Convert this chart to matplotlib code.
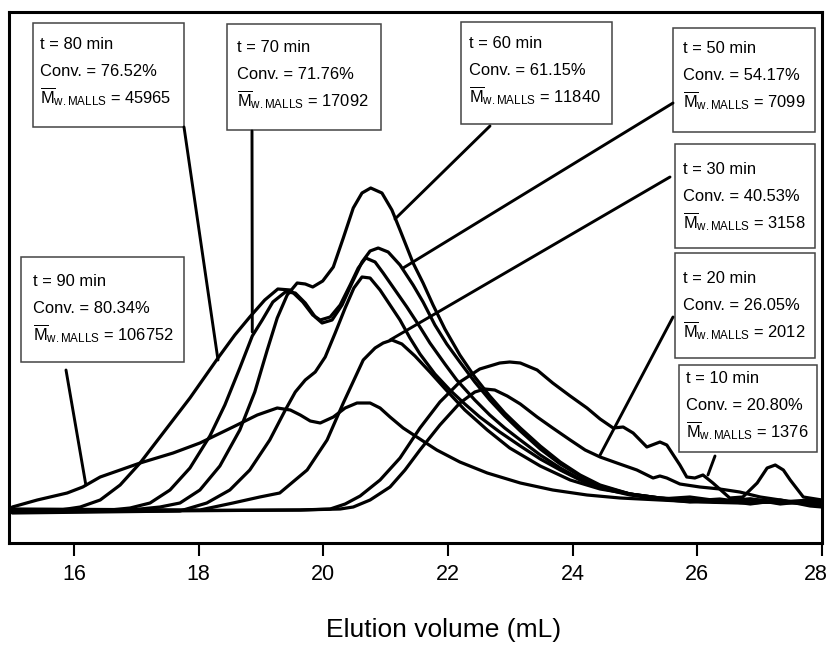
import matplotlib
matplotlib.use("Agg")
import matplotlib.pyplot as plt
import matplotlib.transforms as mtransforms
from matplotlib.patches import Rectangle

plt.rcParams['font.family'] = ['Liberation Sans', 'DejaVu Sans']
plt.rcParams['mathtext.fontset'] = 'custom'
plt.rcParams['mathtext.rm'] = 'Liberation Sans'
plt.rcParams['mathtext.it'] = 'Liberation Sans:italic'
plt.rcParams['mathtext.bf'] = 'Liberation Sans:bold'

# elution volume (mL) / detector response (arb. units)
x_t90 = [15.01, 15.41, 15.89, 16.14, 16.42, 16.74, 17.06, 17.59, 18.02, 18.55, 18.94, 19.26, 19.47, 19.63,
         19.79, 19.95, 20.16, 20.35, 20.54, 20.75, 20.91, 21.07, 21.28, 21.50, 21.82, 22.19, 22.63, 23.16,
         23.68, 24.23, 24.76, 25.40, 26.04, 26.68, 27.33, 28.00]
y_t90 = [3, 10, 17, 23, 33, 40, 47, 57, 67, 83, 95, 102, 100, 95, 89, 87, 93, 102, 107, 107, 102, 93, 82,
         73, 60, 48, 37, 27, 20, 15, 12, 10, 8, 7, 8, 5]

x_t80 = [15.01, 15.78, 16.10, 16.42, 16.74, 17.06, 17.38, 17.86, 18.31, 18.58, 18.82, 19.06, 19.27, 19.47,
         19.67, 19.83, 19.95, 20.11, 20.27, 20.43, 20.56, 20.68, 20.83, 20.96, 21.15, 21.34, 21.55, 21.71,
         21.95, 22.14, 22.43, 22.67, 22.91, 23.16, 23.48, 23.80, 24.12, 24.44, 24.92, 25.40, 25.88, 26.36,
         26.85, 27.33, 27.81, 28.00]
y_t80 = [-1, 0, 3, 10, 25, 47, 73, 112, 152, 175, 193, 210, 221, 220, 208, 195, 190, 193, 205, 225, 242, 252,
         248, 237, 220, 203, 183, 167, 146, 130, 110, 95, 82, 70, 55, 42, 31, 23, 16, 11, 8, 10, 6, 10, 4, 3]

x_t70 = [15.01, 16.42, 16.90, 17.22, 17.54, 17.86, 18.18, 18.42, 18.66, 18.86, 19.02, 19.19, 19.39, 19.55,
         19.71, 19.87, 19.98, 20.14, 20.30, 20.46, 20.62, 20.75, 20.88, 21.04, 21.23, 21.44, 21.60, 21.79,
         21.98, 22.19, 22.43, 22.67, 22.91, 23.16, 23.48, 23.80, 24.12, 24.44, 24.92, 25.40, 25.88, 26.36,
         26.85, 27.33, 27.81, 28.00]
y_t70 = [-2, -1, 2, 7, 20, 42, 74, 105, 142, 174, 190, 208, 218, 217, 207, 193, 187, 190, 205, 227, 248, 259,
         262, 258, 245, 225, 208, 185, 166, 148, 128, 110, 94, 79, 61, 46, 34, 24, 16, 12, 10, 8, 10, 7, 8, 6]

x_t60 = [15.01, 16.90, 17.38, 17.70, 18.02, 18.34, 18.66, 18.90, 19.10, 19.26, 19.42, 19.58, 19.71, 19.83,
         19.99, 20.16, 20.32, 20.48, 20.62, 20.76, 20.94, 21.10, 21.23, 21.44, 21.60, 21.76, 21.95, 22.19,
         22.43, 22.67, 22.91, 23.16, 23.48, 23.80, 24.12, 24.44, 24.92, 25.40, 25.88, 26.36, 26.85, 27.33,
         27.81, 28.00]
y_t60 = [0, 0, 3, 7, 20, 44, 80, 118, 160, 192, 215, 227, 226, 223, 229, 243, 272, 302, 317, 322, 317, 300,
         280, 247, 227, 205, 181, 155, 133, 114, 97, 82, 64, 48, 35, 25, 16, 12, 9, 11, 7, 9, 6, 4]

x_t50 = [15.01, 17.70, 18.13, 18.50, 18.82, 19.14, 19.39, 19.55, 19.71, 19.87, 20.03, 20.19, 20.35, 20.49,
         20.62, 20.75, 20.91, 21.07, 21.23, 21.39, 21.55, 21.79, 22.03, 22.27, 22.51, 22.83, 23.16, 23.48,
         23.80, 24.12, 24.44, 24.92, 25.40, 25.88, 26.36, 26.85, 27.33, 27.81, 28.00]
y_t50 = [-3, -1, 7, 20, 40, 70, 100, 118, 130, 138, 153, 177, 202, 222, 233, 232, 220, 205, 190, 172, 156,
         136, 120, 106, 93, 78, 64, 51, 40, 30, 22, 15, 11, 13, 9, 11, 6, 9, 7]

x_t30 = [15.01, 18.02, 18.55, 18.98, 19.30, 19.74, 20.06, 20.32, 20.64, 20.83, 20.96, 21.10, 21.26, 21.47,
         21.71, 21.97, 22.27, 22.63, 22.99, 23.48, 23.96, 24.44, 24.92, 25.40, 25.88, 26.36, 26.85, 27.33,
         27.81, 28.00]
y_t30 = [1, 0, 7, 13, 17, 40, 70, 107, 150, 162, 167, 170, 166, 154, 138, 120, 100, 80, 62, 44, 30, 21, 16,
         12, 10, 8, 11, 8, 10, 8]

x_t20 = [15.01, 19.63, 20.27, 20.48, 20.75, 21.07, 21.31, 21.55, 21.87, 22.19, 22.43, 22.59, 22.75, 22.95,
         23.16, 23.43, 23.68, 23.96, 24.20, 24.44, 24.71, 25.03, 25.29, 25.40, 25.51, 25.72, 26.04, 26.36,
         26.68, 27.01, 27.33, 27.65, 28.00]
y_t20 = [-1, 0, 1, 3, 10, 23, 40, 60, 85, 107, 118, 121, 120, 114, 106, 93, 82, 70, 60, 53, 47, 40, 32, 34,
         32, 26, 23, 21, 18, 13, 10, 7, 5]

x_t10 = [15.01, 19.63, 20.11, 20.35, 20.59, 20.91, 21.23, 21.55, 21.87, 22.19, 22.51, 22.83, 22.99, 23.16,
         23.43, 23.68, 23.96, 24.23, 24.44, 24.65, 24.81, 24.97, 25.19, 25.40, 25.51, 25.72, 25.83, 25.96,
         26.09, 26.25, 26.52, 26.73, 26.96, 27.12, 27.25, 27.38, 27.49, 27.70, 28.00]
y_t10 = [-2, 0, 1, 6, 14, 30, 52, 82, 108, 128, 141, 147, 148, 147, 140, 127, 114, 102, 91, 82, 83, 77, 63,
         68, 65, 45, 33, 32, 35, 27, 12, 13, 27, 42, 45, 40, 30, 13, 10]

# box labels
times = [80, 70, 60, 50, 30, 20, 10, 90]
convs = ['76.52', '71.76', '61.15', '54.17', '40.53', '26.05', '20.80', '80.34']
mws = [45965, 17092, 11840, 7099, 3158, 2012, 1376, 106752]
# where each leader line touches its trace (mL, response)
leader_x = [18.31, 18.86, 21.15, 21.28, 21.07, 24.44, 26.17, 16.19]
leader_y = [150, 178, 291, 242, 170, 55, 35, 25]

W, H = 830, 645
fig = plt.figure(figsize=(W / 100, H / 100), dpi=100)
ax = fig.add_axes([9 / W, 1 - 543 / H, 813 / W, 531 / H])


def frac(px, py):
    # pixel position in the picture -> axes fraction
    return (px - 9) / 813, (543 - py) / 531


lw = 2.3
for xs, ys in [(x_t90, y_t90), (x_t80, y_t80), (x_t70, y_t70), (x_t60, y_t60),
               (x_t50, y_t50), (x_t30, y_t30), (x_t20, y_t20), (x_t10, y_t10)]:
    ax.plot(xs, ys, color='black', lw=lw, solid_joinstyle='round', solid_capstyle='round')

# box layout in pixels: left, top, right, bottom, text left, first line centre
boxes = [(33, 23, 184, 127, 40, 43), (227, 24, 381, 130, 237, 46), (461, 22, 612, 124, 469, 42),
         (673, 28, 815, 132, 683, 47), (675, 144, 815, 248, 683, 168), (675, 253, 815, 358, 683, 277),
         (679, 365, 817, 452, 686, 377), (21, 257, 184, 362, 33, 280)]
starts = [(184, 127), (252, 131), (490, 126), (673, 103), (670, 177), (673, 317), (715, 456), (66, 370)]

for i, (l, t, r, b, tx, ty) in enumerate(boxes):
    x0, y0 = frac(l, b)
    x1, y1 = frac(r, t)
    ax.add_patch(Rectangle((x0, y0), x1 - x0, y1 - y0, transform=ax.transAxes,
                           facecolor='white', edgecolor='#444444', lw=1.1, zorder=3))
    lines = ['t = %d min' % times[i], 'Conv. = %s%%' % convs[i],
             r'$\overline{\mathrm{M}}_{\mathrm{w.MALLS}}$ = %d' % mws[i]]
    for k, s in enumerate(lines):
        fx, fy = frac(tx, ty + 27 * k + 6)
        ax.text(fx, fy, s, transform=ax.transAxes, fontsize=11.9, va='baseline', ha='left', zorder=4)
    ax.annotate('', xy=(leader_x[i], leader_y[i]), xycoords='data',
                xytext=frac(*starts[i]), textcoords='axes fraction',
                arrowprops=dict(arrowstyle='-', lw=2.1, color='black', shrinkA=0, shrinkB=0))

ax.set_xlim(14.957, 28.0)
ax.set_ylim(-33, 498)
ax.set_xticks([16, 18, 20, 22, 24, 26, 28])
ax.set_yticks([])
ax.tick_params(axis='x', direction='out', length=9.4, width=1.5, labelsize=15.5, pad=6)
for sp in ax.spines.values():
    sp.set_linewidth(2.2)
ax.set_xlabel('Elution volume (mL)', fontsize=19)
ax.xaxis.set_label_coords(*frac(444, 618))

# last tick label sits against the right edge in the original
last = ax.get_xticklabels()[-1]
last.set_transform(last.get_transform() + mtransforms.ScaledTranslation(-6 / 100, 0, fig.dpi_scale_trans))

fig.savefig('out.png', dpi=100)
